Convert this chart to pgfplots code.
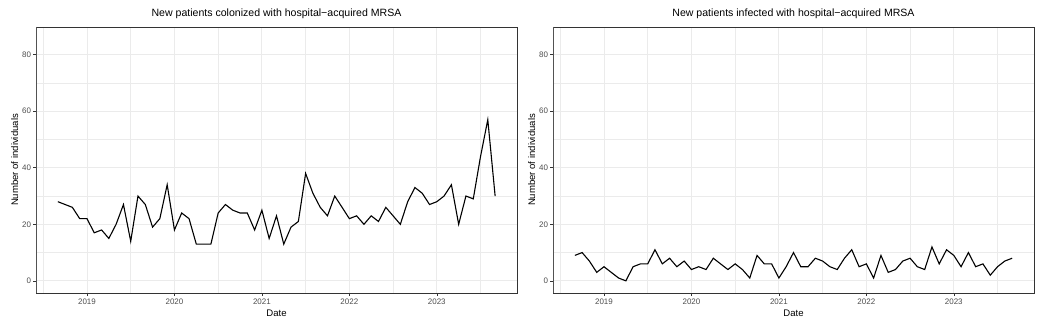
\documentclass[border=0pt]{standalone}
\usepackage{fontspec}
\setmainfont{Liberation Sans}
\usepackage{pgfplots}
\usepackage{pgfplotstable}
\pgfplotsset{compat=1.18}
\definecolor{gridG}{HTML}{EBEBEB}
\definecolor{frameG}{HTML}{333333}
\definecolor{tickG}{HTML}{4D4D4D}

% monthly counts, date as decimal year (Sep 2018 .. Sep 2023)
\pgfplotstableread{
date      colonized infected
2018.667  28   9
2018.750  27  10
2018.833  26   7
2018.917  22   3
2019.000  22   5
2019.083  17   3
2019.167  18   1
2019.250  15   0
2019.333  20   5
2019.417  27   6
2019.500  14   6
2019.583  30  11
2019.667  27   6
2019.750  19   8
2019.833  22   5
2019.917  34   7
2020.000  18   4
2020.083  24   5
2020.167  22   4
2020.250  13   8
2020.333  13   6
2020.417  13   4
2020.500  24   6
2020.583  27   4
2020.667  25   1
2020.750  24   9
2020.833  24   6
2020.917  18   6
2021.000  25   1
2021.083  15   5
2021.167  23  10
2021.250  13   5
2021.333  19   5
2021.417  21   8
2021.500  38   7
2021.583  31   5
2021.667  26   4
2021.750  23   8
2021.833  30  11
2021.917  26   5
2022.000  22   6
2022.083  23   1
2022.167  20   9
2022.250  23   3
2022.333  21   4
2022.417  26   7
2022.500  23   8
2022.583  20   5
2022.667  28   4
2022.750  33  12
2022.833  31   6
2022.917  27  11
2023.000  28   9
2023.083  30   5
2023.167  34  10
2023.250  20   5
2023.333  30   6
2023.417  29   2
2023.500  44   5
2023.583  57   7
2023.667  30   8
}\mrsa

\pgfplotsset{
  ggpanel/.style={
    scale only axis,
    width=481bp, height=266bp,
    xmin=2018.417, xmax=2023.917,
    ymin=-4.3, ymax=89.8,
    xtick={2019,2020,2021,2022,2023},
    minor xtick={2018.5,2019.5,2020.5,2021.5,2022.5,2023.5},
    ytick={0,20,40,60,80},
    minor ytick={10,30,50,70},
    grid=both,
    major grid style={gridG, line width=0.9bp},
    minor grid style={gridG, line width=0.5bp},
    axis line style={frameG, line width=0.6bp},
    tick align=outside,
    major tick length=3bp,
    minor tick length=0pt,
    every tick/.style={frameG, line width=0.6bp},
    xtick pos=bottom, ytick pos=left,
    xticklabel={\pgfmathprintnumber[1000 sep=]{\tick}},
    /pgf/number format/assume math mode=true,
    ticklabel style={font=\fontsize{8}{9}\selectfont, text=tickG},
    xticklabel shift=-0.5bp,
    yticklabel shift=-1.5bp,
    label style={font=\fontsize{9.6}{11}\selectfont, text=black},
    xlabel={Date},
    ylabel={Number of individuals},
    xlabel shift=-1.5bp,
    ylabel shift=-3bp,
    title style={font=\fontsize{10.6}{12}\selectfont, yshift=-1bp},
  },
  ggline/.style={black, line width=1.1bp, mark=none},
}

\begin{document}
\begin{tikzpicture}
\path[use as bounding box] (0,0) rectangle (1046bp,327bp);
\begin{axis}[ggpanel, at={(36bp,34bp)},
    title={New patients colonized with hospital−acquired MRSA}]
  \addplot[ggline] table[x=date, y=colonized] {\mrsa};
  \draw[frameG!85, line width=0.9bp] (rel axis cs:0,1) -- (rel axis cs:0,0) -- (rel axis cs:1,0);
\end{axis}
\begin{axis}[ggpanel, at={(553bp,34bp)},
    title={New patients infected with hospital−acquired MRSA}]
  \addplot[ggline] table[x=date, y=infected] {\mrsa};
  \draw[frameG!85, line width=0.9bp] (rel axis cs:0,1) -- (rel axis cs:0,0) -- (rel axis cs:1,0);
\end{axis}
\end{tikzpicture}
\end{document}
